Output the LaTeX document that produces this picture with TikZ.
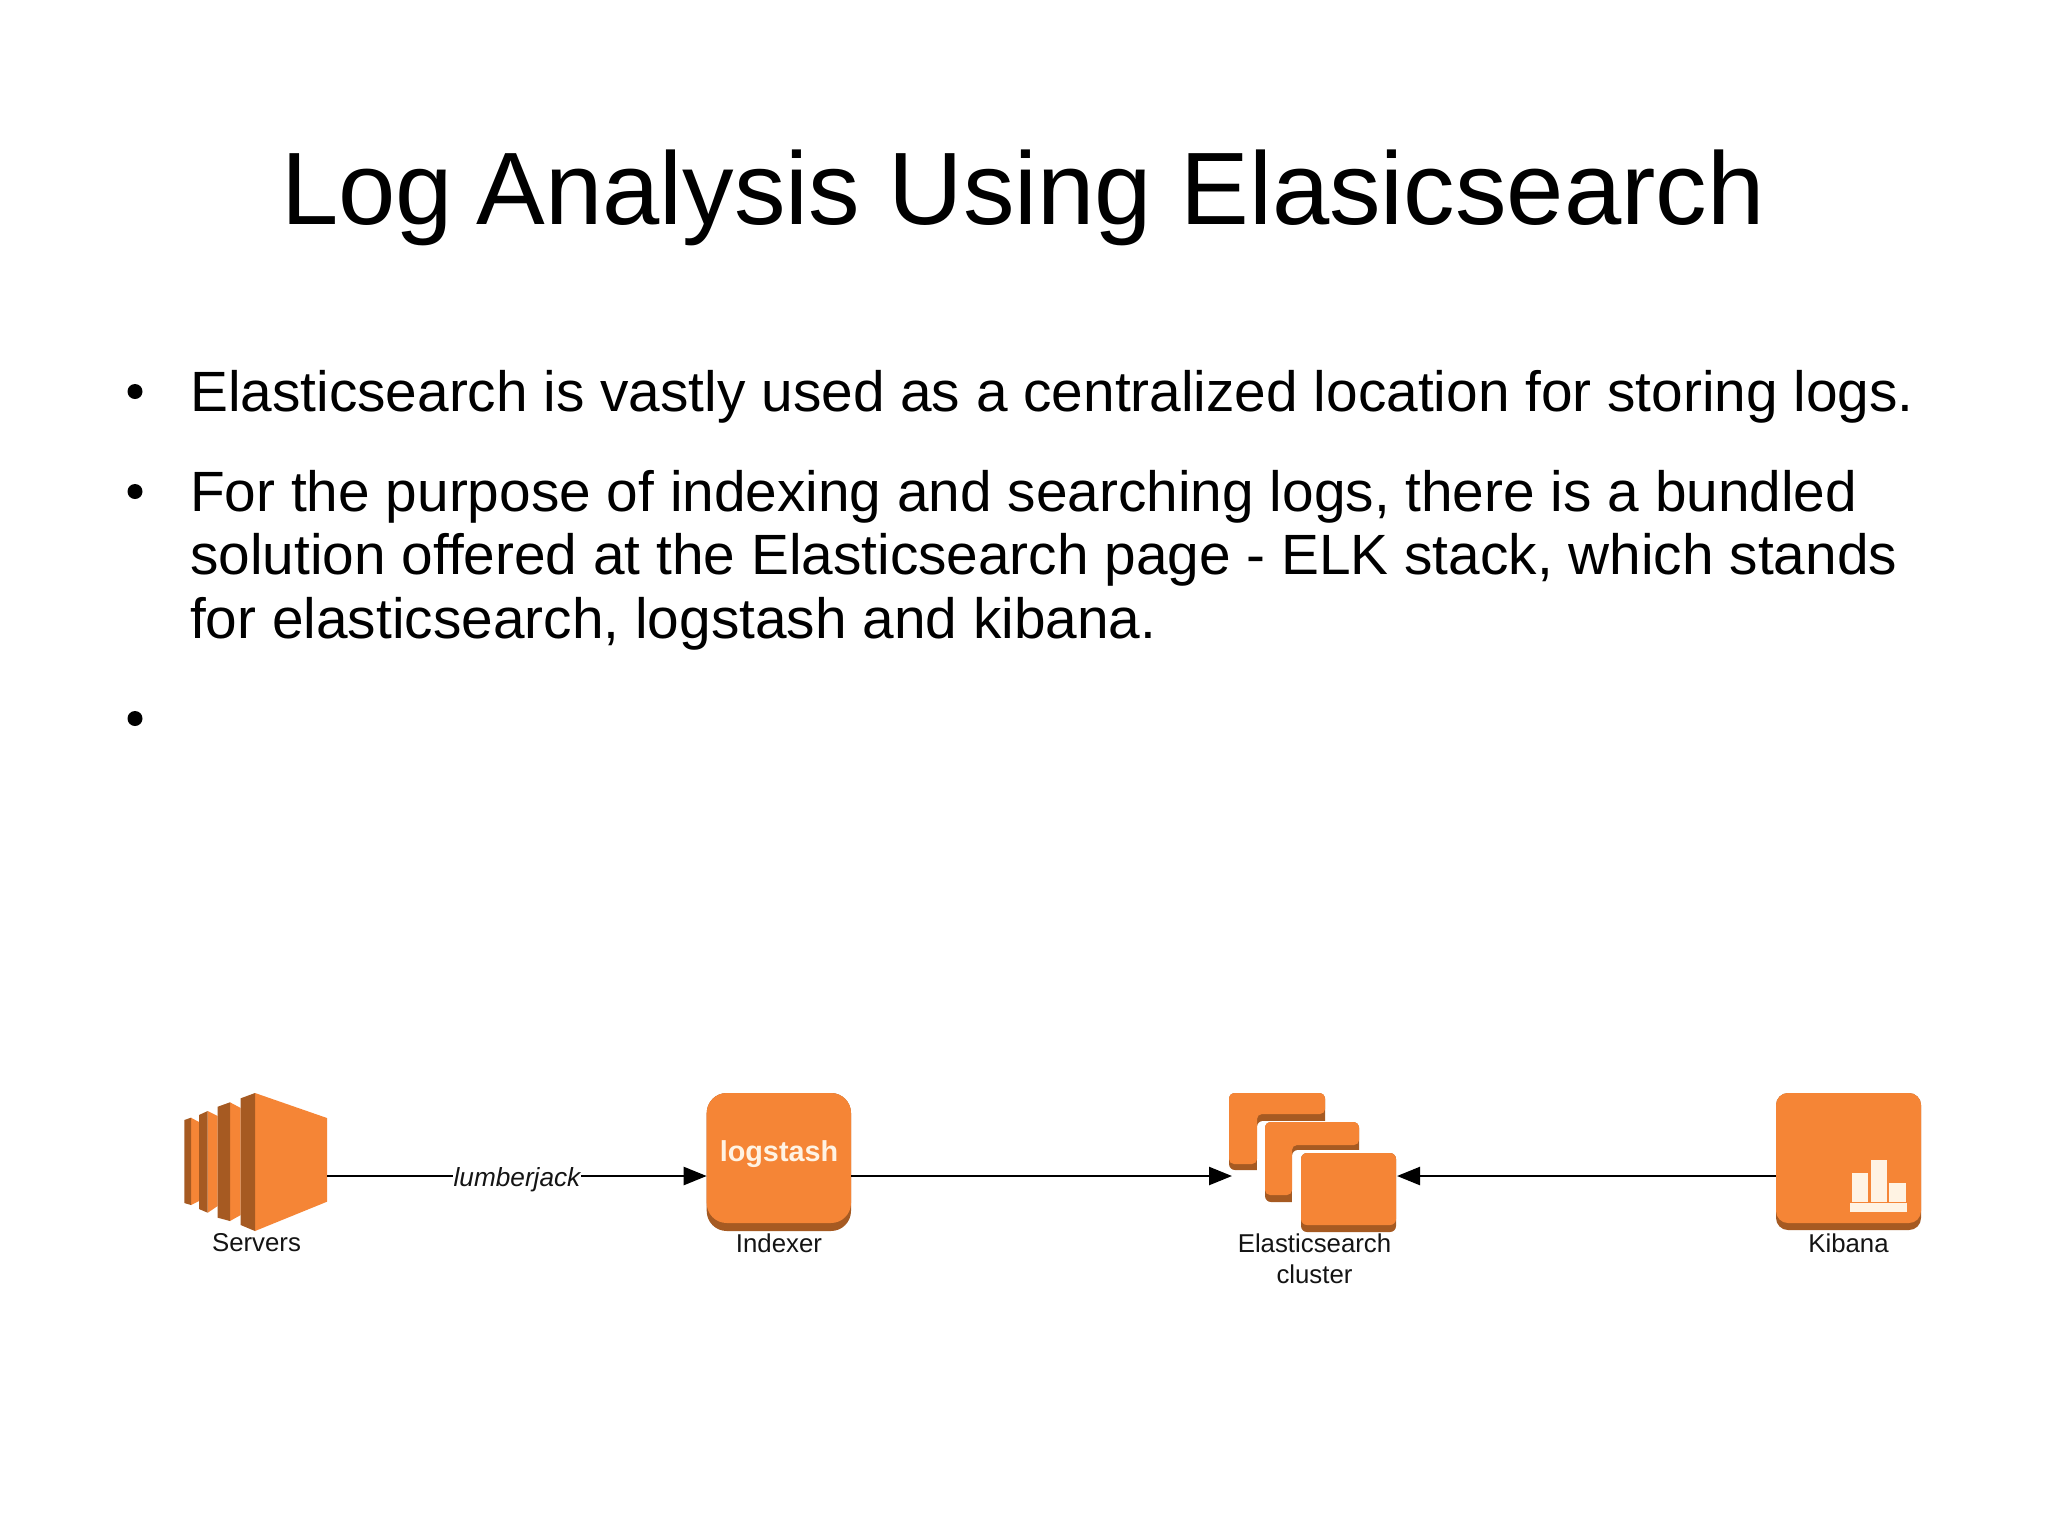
\documentclass[tikz,border=0pt]{standalone}
\usepackage{fontspec}
\setmainfont{Liberation Sans}
\usetikzlibrary{arrows.meta}
\definecolor{awsor}{HTML}{F58536}
\definecolor{awsdk}{HTML}{A65A22}
\definecolor{paleglyph}{HTML}{FFF3E3}
\tikzset{
  x=1pt,y=-1pt,
  lbl/.style={inner sep=0pt,align=center,font=\fontsize{25.8}{31}\selectfont,text=black!92},
  orange/.style={fill=awsor,draw=none},
  dark/.style={fill=awsdk,draw=none},
  conn/.style={draw=black,line width=2.4pt,-{Triangle[length=23pt,width=18pt]}},
  bodytext/.style={anchor=base west,inner sep=0pt,font=\fontsize{56.8}{63.7}\selectfont,text=black},
  bulletdot/.style={circle,fill=black,inner sep=0pt,minimum size=15pt}
}
\begin{document}
\begin{tikzpicture}
\useasboundingbox (0,0) rectangle (2048,1535);
\fill[white] (0,0) rectangle (2048,1535);
% title
\node[anchor=base,inner sep=0pt,font=\fontsize{103}{120}\selectfont] (title) at (1023,224) {Log\kern-5pt{} Analysis Using Elasicsearch};
% bullets
\node[bulletdot] (b1) at (135,391.5) {};
\node[bodytext] (t1) at (190,411) {Elasticsearch is vastly used as a centralized location for storing logs.};
\node[bulletdot] (b2) at (135,491.5) {};
\node[bodytext] (t2) at (190,511) {For the purpose of indexing and searching logs, there is a bundled};
\node[bodytext] (t3) at (190,574.5) {solution offered at the Elasticsearch page - ELK stack, which stands};
\node[bodytext] (t4) at (190,638) {for elasticsearch, logstash and kibana.};
\node[bulletdot] (b3) at (135,718.5) {};
% servers
\fill[orange] (191,1117.7) -- (199,1122) -- (199,1201) -- (191,1205) -- cycle;
\fill[dark] (184.3,1120) -- (191,1117.7) -- (191,1205) -- (184.3,1203) -- cycle;
\fill[orange] (207.7,1111) -- (217.7,1116) -- (217.7,1206) -- (207.7,1212.7) -- cycle;
\fill[dark] (199,1115) -- (207.7,1111) -- (207.7,1212.7) -- (199,1209) -- cycle;
\fill[orange] (230,1102.3) -- (240.7,1108) -- (240.7,1215) -- (230,1221) -- cycle;
\fill[dark] (217.7,1106.7) -- (230,1102.3) -- (230,1221) -- (217.7,1217.7) -- cycle;
\fill[orange] (255,1093) -- (327,1118) -- (327,1201.7) -- (255,1231) -- cycle;
\fill[dark] (240.7,1098.3) -- (255,1093) -- (255,1231) -- (240.7,1225) -- cycle;
\coordinate (srvE) at (327,1176);
% indexer
\fill[dark,rounded corners=20pt] (706.7,1093) rectangle (851,1231);
\fill[orange,rounded corners=20pt] (706.7,1093) rectangle (851,1223);
\coordinate (idxW) at (706.7,1176);
\coordinate (idxE) at (851,1176);
\node[inner sep=0pt,font=\bfseries\fontsize{28.8}{30}\selectfont,text=paleglyph] (lg) at (779,1154.5) {logstash};
% cluster: back box
\fill[dark,rounded corners=6pt] (1229,1093) rectangle (1325,1170);
\fill[white,rounded corners=6pt] (1257,1121) rectangle (1345,1185);
\fill[orange,rounded corners=5pt] (1229,1093) -- (1325,1093) -- (1325,1114) -- (1257,1114) -- (1257,1164) -- (1229,1164) -- cycle;
% cluster: middle box
\fill[dark,rounded corners=6pt] (1265,1122) rectangle (1359,1202);
\fill[white,rounded corners=6pt] (1292,1150) rectangle (1380,1215);
\fill[orange,rounded corners=5pt] (1265,1122) -- (1359,1122) -- (1359,1145) -- (1292,1145) -- (1292,1195) -- (1265,1195) -- cycle;
% cluster: front box
\fill[dark,rounded corners=6pt] (1301,1153) rectangle (1396,1232);
\fill[orange,rounded corners=6pt] (1301,1153) rectangle (1396,1225);
\coordinate (clW) at (1232,1176);
\coordinate (clE) at (1397,1176);
% kibana
\fill[dark,rounded corners=12pt] (1776,1093) rectangle (1921,1230);
\fill[orange,rounded corners=12pt] (1776,1093) rectangle (1921,1223);
\fill[paleglyph] (1851.7,1173) rectangle (1868,1201.7);
\fill[paleglyph] (1870.7,1160) rectangle (1886.7,1201.7);
\fill[paleglyph] (1889.3,1183) rectangle (1906,1201.7);
\fill[paleglyph] (1850,1202.7) rectangle (1907,1211.7);
\coordinate (kbW) at (1776,1176);
% connectors
\draw[conn] (srvE) -- (idxW);
\draw[conn] (idxE) -- (clW);
\draw[conn] (kbW) -- (clE);
\node[fill=white,inner sep=1pt,font=\itshape\fontsize{26.2}{30}\selectfont,text=black!92] (lj) at (517,1179.5) {lumberjack};
% labels
\node[lbl] (l1) at (256.5,1243) {Servers};
\node[lbl] (l2) at (779,1243) {Indexer};
\node[lbl] (l3) at (1314.5,1258.5) {Elasticsearch\\cluster};
\node[lbl] (l4) at (1848.5,1243) {Kibana};
\end{tikzpicture}
\end{document}
